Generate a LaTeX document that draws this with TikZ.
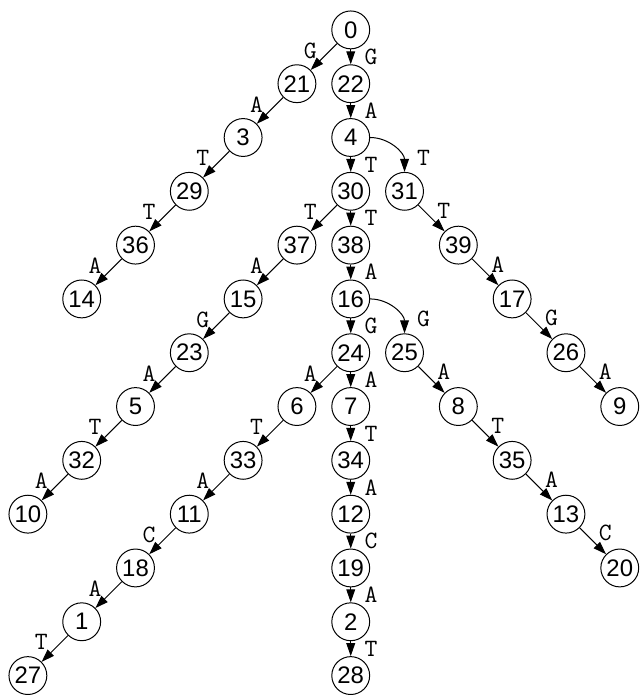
\documentclass[tikz,border=0pt]{standalone}
\usepackage{fontspec}
\setmainfont{Liberation Sans}
\usepackage{tikz}
\usetikzlibrary{arrows.meta,positioning}
\tikzset{
  state/.style={draw, circle, minimum size=19pt, inner sep=0pt, line width=0.5pt, font=\fontsize{12}{14}\selectfont},
  trans/.style={-{Triangle[length=6.5pt,width=4.4pt]}, line width=0.5pt},
  lbl/.style={font=\ttfamily\fontsize{12.5}{14}\selectfont, inner sep=0pt},
  lblleft/.style={lbl, midway, xshift=-6.75pt, yshift=3.2pt},
  lblright/.style={lbl, midway, xshift=6.25pt, yshift=3.9pt},
  lbldown/.style={lbl, midway, xshift=10.25pt},
  lblcurve/.style={lbl, midway, xshift=14.6pt, yshift=-5pt}
}
\begin{document}
\begin{tikzpicture}[node distance=27pt and 27pt, on grid]
  \node[state] (n0) {0};
  \node[state, below left=of n0] (n21) {21};
  \node[state, below=of n0] (n22) {22};
  \node[state, below left=of n21] (n3) {3};
  \node[state, below=of n22] (n4) {4};
  \node[state, below left=of n3] (n29) {29};
  \node[state, below=of n4] (n30) {30};
  \node[state, below right=of n4] (n31) {31};
  \node[state, below left=of n29] (n36) {36};
  \node[state, below left=of n30] (n37) {37};
  \node[state, below=of n30] (n38) {38};
  \node[state, below right=of n31] (n39) {39};
  \node[state, below left=of n36] (n14) {14};
  \node[state, below left=of n37] (n15) {15};
  \node[state, below=of n38] (n16) {16};
  \node[state, below right=of n39] (n17) {17};
  \node[state, below left=of n15] (n23) {23};
  \node[state, below=of n16] (n24) {24};
  \node[state, below right=of n16] (n25) {25};
  \node[state, below right=of n17] (n26) {26};
  \node[state, below left=of n23] (n5) {5};
  \node[state, below left=of n24] (n6) {6};
  \node[state, below=of n24] (n7) {7};
  \node[state, below right=of n25] (n8) {8};
  \node[state, below right=of n26] (n9) {9};
  \node[state, below left=of n5] (n32) {32};
  \node[state, below left=of n6] (n33) {33};
  \node[state, below=of n7] (n34) {34};
  \node[state, below right=of n8] (n35) {35};
  \node[state, below left=of n32] (n10) {10};
  \node[state, below left=of n33] (n11) {11};
  \node[state, below=of n34] (n12) {12};
  \node[state, below right=of n35] (n13) {13};
  \node[state, below left=of n11] (n18) {18};
  \node[state, below=of n12] (n19) {19};
  \node[state, below right=of n13] (n20) {20};
  \node[state, below left=of n18] (n1) {1};
  \node[state, below=of n19] (n2) {2};
  \node[state, below left=of n1] (n27) {27};
  \node[state, below=of n2] (n28) {28};

  \useasboundingbox ([shift={(-176pt,15pt)}]n0.center) rectangle ([shift={(142.5pt,-332.5pt)}]n0.center);

  \draw[trans] (n0) -- node[lblleft] {G} (n21);
  \draw[trans] (n0) -- node[lbldown] {G} (n22);
  \draw[trans] (n21) -- node[lblleft] {A} (n3);
  \draw[trans] (n3) -- node[lblleft] {T} (n29);
  \draw[trans] (n29) -- node[lblleft] {T} (n36);
  \draw[trans] (n36) -- node[lblleft] {A} (n14);
  \draw[trans] (n22) -- node[lbldown] {A} (n4);
  \draw[trans] (n4) -- node[lbldown] {T} (n30);
  \draw[trans] (n4.east) to[out=0, in=90] node[lblcurve] {T} (n31.north);
  \draw[trans] (n30) -- node[lblleft] {T} (n37);
  \draw[trans] (n30) -- node[lbldown] {T} (n38);
  \draw[trans] (n31) -- node[lblright] {T} (n39);
  \draw[trans] (n37) -- node[lblleft] {A} (n15);
  \draw[trans] (n38) -- node[lbldown] {A} (n16);
  \draw[trans] (n39) -- node[lblright] {A} (n17);
  \draw[trans] (n15) -- node[lblleft] {G} (n23);
  \draw[trans] (n16) -- node[lbldown] {G} (n24);
  \draw[trans] (n16.east) to[out=0, in=90] node[lblcurve] {G} (n25.north);
  \draw[trans] (n17) -- node[lblright] {G} (n26);
  \draw[trans] (n23) -- node[lblleft] {A} (n5);
  \draw[trans] (n24) -- node[lblleft] {A} (n6);
  \draw[trans] (n24) -- node[lbldown] {A} (n7);
  \draw[trans] (n25) -- node[lblright] {A} (n8);
  \draw[trans] (n26) -- node[lblright] {A} (n9);
  \draw[trans] (n5) -- node[lblleft] {T} (n32);
  \draw[trans] (n6) -- node[lblleft] {T} (n33);
  \draw[trans] (n7) -- node[lbldown] {T} (n34);
  \draw[trans] (n8) -- node[lblright] {T} (n35);
  \draw[trans] (n32) -- node[lblleft] {A} (n10);
  \draw[trans] (n33) -- node[lblleft] {A} (n11);
  \draw[trans] (n34) -- node[lbldown] {A} (n12);
  \draw[trans] (n35) -- node[lblright] {A} (n13);
  \draw[trans] (n11) -- node[lblleft] {C} (n18);
  \draw[trans] (n12) -- node[lbldown] {C} (n19);
  \draw[trans] (n13) -- node[lblright] {C} (n20);
  \draw[trans] (n18) -- node[lblleft] {A} (n1);
  \draw[trans] (n19) -- node[lbldown] {A} (n2);
  \draw[trans] (n1) -- node[lblleft] {T} (n27);
  \draw[trans] (n2) -- node[lbldown] {T} (n28);
\end{tikzpicture}
\end{document}
